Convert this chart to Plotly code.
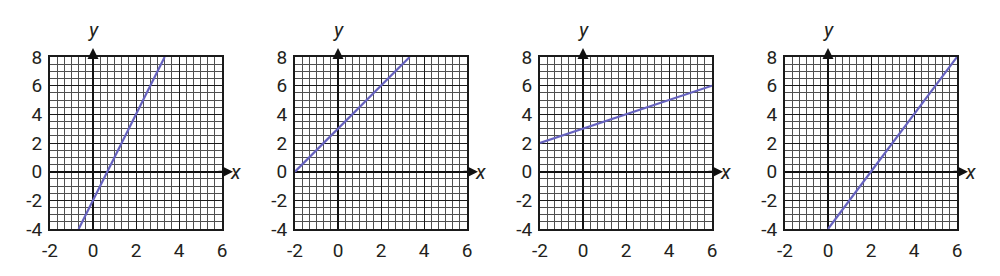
import plotly.graph_objects as go

# ---- data ----
x_start = [-0.667, -2, -2, 0]
x_end = [3.333, 3.333, 6, 6]
y_start = [-4, 0, 2, -4]
y_end = [8, 8, 6, 8]
x_ticks = [-2, 0, 2, 4, 6]
x_tick_text = ["-2", "0", "2", "4", "6"]
y_ticks = [-4, -2, 0, 2, 4, 6, 8]
y_tick_text = ["-4", "-2", "0", "2", "4", "6", "8"]
x_range = [-2, 6]
y_range = [-4, 8]

line_color = "#6662bf"
W, H = 1000, 276
left_px = [50, 295, 540, 785]
pw = 172
top_px, bot_px = 57, 229
font_family = "Roboto, Open Sans, sans-serif"
text_color = "#231f20"

fig = go.Figure()
layout = dict(
    width=W, height=H, margin=dict(l=0, r=0, t=0, b=0, autoexpand=False),
    paper_bgcolor="white", plot_bgcolor="white", showlegend=False,
    annotations=[],
)

for i in range(4):
    n = "" if i == 0 else str(i + 1)
    fig.add_trace(go.Scatter(
        x=[x_start[i], x_end[i]], y=[y_start[i], y_end[i]],
        mode="lines", line=dict(color=line_color, width=2.2),
        xaxis="x" + n, yaxis="y" + n, hoverinfo="skip",
    ))
    layout["xaxis" + n] = dict(
        domain=[left_px[i] / W, (left_px[i] + pw) / W],
        anchor="y" + n, range=x_range,
        tickmode="array", tickvals=x_ticks, ticktext=x_tick_text,
        showgrid=True, gridcolor="#1a1a1a", gridwidth=1.3,
        minor=dict(tick0=-2, dtick=1 / 3, showgrid=True, gridcolor="#505050", gridwidth=1),
        zeroline=True, zerolinecolor="#111111", zerolinewidth=2,
        showline=True, mirror=True, linecolor="#1a1a1a", linewidth=2,
        ticks="", ticklen=0, ticklabelstandoff=3,
        tickfont=dict(family=font_family, size=19, color=text_color),
        fixedrange=True,
    )
    layout["yaxis" + n] = dict(
        domain=[1 - bot_px / H, 1 - top_px / H],
        anchor="x" + n, range=y_range,
        tickmode="array", tickvals=y_ticks, ticktext=y_tick_text,
        showgrid=True, gridcolor="#1a1a1a", gridwidth=1.3,
        minor=dict(tick0=-4, dtick=0.5, showgrid=True, gridcolor="#505050", gridwidth=1),
        zeroline=True, zerolinecolor="#111111", zerolinewidth=2,
        showline=True, mirror=True, linecolor="#1a1a1a", linewidth=2,
        ticks="", ticklen=0, ticklabelstandoff=2,
        tickfont=dict(family=font_family, size=19, color=text_color),
        fixedrange=True,
    )
    # axis arrows
    layout["annotations"].append(dict(
        xref="x" + n, yref="y" + n + " domain", x=0, y=1 + 9 / 172,
        ax=0, ay=16, text="", showarrow=True, arrowhead=2, arrowsize=1.1,
        arrowwidth=2, arrowcolor="#111111",
    ))
    layout["annotations"].append(dict(
        xref="x" + n + " domain", yref="y" + n, x=1 + 11 / 172, y=0,
        ax=-16, ay=0, text="", showarrow=True, arrowhead=2, arrowsize=1.1,
        arrowwidth=2, arrowcolor="#111111",
    ))
    # axis letters
    layout["annotations"].append(dict(
        xref="x" + n, yref="y" + n + " domain", x=0, y=1 + 13 / 172,
        yanchor="bottom", text="<i>y</i>", showarrow=False,
        font=dict(family=font_family, size=20, color=text_color),
    ))
    layout["annotations"].append(dict(
        xref="x" + n + " domain", yref="y" + n, x=1 + 21 / 172, y=0,
        text="<i>x</i>", showarrow=False,
        font=dict(family=font_family, size=20, color=text_color),
    ))

fig.update_layout(**layout)
fig.write_html("out.html")
